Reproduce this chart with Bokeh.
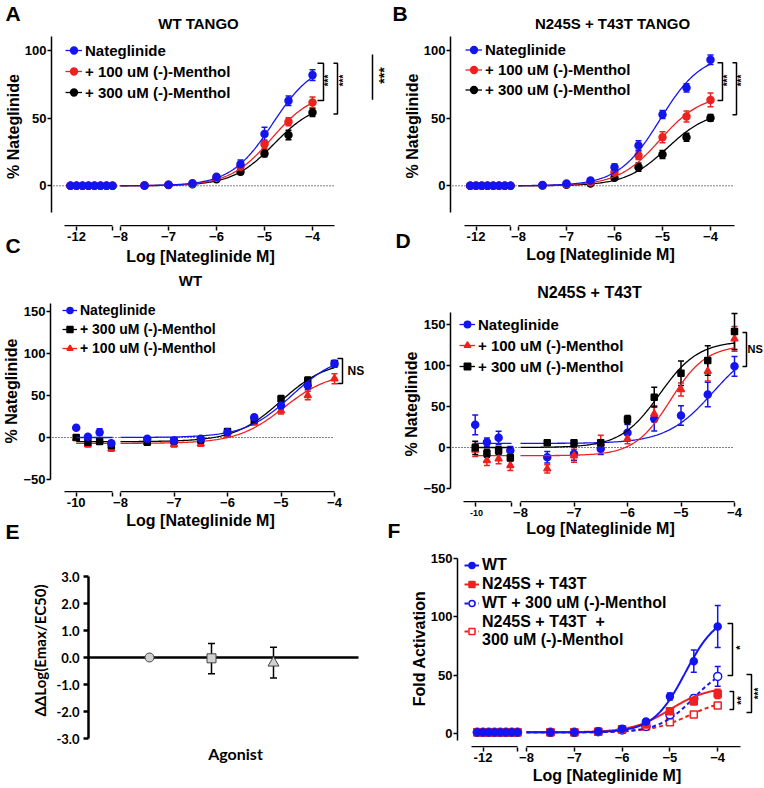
import numpy as np
from bokeh.plotting import figure
from bokeh.models import (Range1d, FixedTicker, Label, Legend, LegendItem, GridBox,
                          ColumnDataSource, Whisker, TeeHead, NumeralTickFormatter)
from bokeh.core.properties import value
from bokeh.embed import file_html
from bokeh.resources import INLINE

FONT = "Liberation Sans"
EFONT = "Lato"
BLUE = "#1414f0"
RED = "#ee2020"
BLACK = "#000000"

# ---------------- data ----------------
conc = [-7.5, -7.0, -6.5, -6.0, -5.5, -5.0, -4.5, -4.0]
veh_12 = [-12.25, -12.0, -11.75, -11.5, -11.25, -11.0, -10.75, -10.5]
veh_10 = [-10.0, -9.5, -9.0, -8.5]

lab_nat = "Nateglinide"
lab_100 = "+ 100 uM (-)-Menthol"
lab_300 = "+ 300 uM (-)-Menthol"

# Panel A  (WT TANGO)
a_nat = [0.3, 0.8, 1.8, 6.6, 16.0, 38.2, 62.8, 81.8]
a_nat_err = [0.3, 0.4, 0.8, 1.5, 3.0, 5.0, 3.5, 4.0]
a_m100 = [0.3, 0.7, 1.5, 6.0, 14.0, 30.8, 47.3, 61.6]
a_m100_err = [0.3, 0.4, 0.8, 1.5, 2.0, 3.0, 3.0, 4.0]
a_m300 = [0.2, 0.6, 1.2, 4.9, 10.3, 23.9, 37.5, 54.2]
a_m300_err = [0.2, 0.3, 0.6, 1.0, 2.0, 2.5, 3.5, 3.0]
a_veh = [0, 0, 0, 0, 0, 0, 0, 0]
a_veh_err = [0, 0, 0, 0, 0, 0, 0, 0]
a_fit_nat = (0, 92, -4.83, 1.0)     # bottom, top, logEC50, hill
a_fit_m100 = (0, 70, -4.85, 1.0)
a_fit_m300 = (0, 62, -4.80, 1.0)

# Panel B  (N245S + T43T TANGO)
b_nat = [0.5, 1.7, 3.9, 13.7, 29.8, 52.7, 72.4, 93.1]
b_nat_err = [0.4, 0.5, 1.0, 2.5, 3.5, 3.0, 3.0, 3.5]
b_m100 = [0.3, 1.2, 2.7, 10.1, 22.4, 35.9, 51.2, 63.5]
b_m100_err = [0.3, 0.5, 0.8, 2.0, 3.0, 4.0, 4.0, 5.0]
b_m300 = [0.2, 0.8, 1.7, 5.9, 13.8, 23.1, 35.9, 50.2]
b_m300_err = [0.2, 0.4, 0.6, 1.5, 3.0, 3.0, 3.0, 2.5]
b_veh = [0, 0, 0, 0, 0, 0, 0, 0]
b_veh_err = [0, 0, 0, 0, 0, 0, 0, 0]
b_fit_nat = (0, 98, -5.05, 1.0)
b_fit_m100 = (0, 68, -5.05, 1.0)
b_fit_m300 = (0, 56, -4.90, 1.0)

# Panel C  (WT)
c_nat_veh = [11.5, 1.0, 6.3, -6.8]
c_nat_veh_err = [0.5, 0.5, 4.0, 3.0]
c_nat = [-1.6, -3.6, -1.6, 6.3, 24.2, 38.0, 62.0, 87.7]
c_nat_err = [1.5, 1.5, 1.5, 1.5, 2.5, 4.0, 5.0, 4.0]
c_m300_veh = [0.0, -5.6, -4.8, -9.5]
c_m300_veh_err = [1.0, 3.0, 3.0, 3.0]
c_m300 = [-5.6, -4.0, -3.0, 7.0, 21.0, 46.0, 68.0, 88.0]
c_m300_err = [1.5, 1.5, 1.5, 2.0, 2.5, 4.0, 4.0, 3.0]
c_m100_veh = [-1.0, -8.3, -4.4, -13.5]
c_m100_veh_err = [1.0, 3.0, 3.0, 3.0]
c_m100 = [-5.6, -8.3, -7.5, 3.0, 18.0, 32.0, 50.0, 70.0]
c_m100_err = [1.5, 3.0, 3.0, 2.0, 3.0, 4.0, 5.0, 6.0]
c_fit_nat = (0, 100, -4.80, 1.0)
c_fit_m300 = (-5, 92, -5.00, 1.0)
c_fit_m100 = (-7, 78, -4.95, 1.0)

# Panel D  (N245S + T43T)
d_nat_veh = [27.6, 6.5, 11.8, -3.7]
d_nat_veh_err = [12, 5, 8, 5]
d_nat = [-11.8, -7.7, -1.6, 18.0, 35.0, 39.0, 64.6, 99.0]
d_nat_err = [7, 8, 7, 10, 15, 12, 15, 12]
d_m100_veh = [-3.0, -15.8, -13.8, -22.0]
d_m100_veh_err = [8, 6, 6, 6]
d_m100 = [-26.0, -10.0, 5.0, 10.6, 41.0, 70.7, 93.0, 132.5]
d_m100_err = [5, 8, 10, 6, 10, 8, 12, 15]
d_m300_veh = [-0.4, -7.0, -3.7, -12.6]
d_m300_veh_err = [8, 5, 5, 4]
d_m300 = [5.7, 5.7, 5.7, 34.0, 61.4, 90.6, 106.0, 141.5]
d_m300_err = [3, 3, 3, 5, 12, 15, 18, 22]
d_fit_nat = (5, 130, -4.40, 1.0)
d_fit_m100 = (-10, 125, -5.20, 1.3)
d_fit_m300 = (0, 130, -5.40, 1.2)

# Panel E
e_cat = [1, 2, 3]
e_val = [0.0, -0.03, -0.2]
e_lo = [0.0, -0.6, -0.76]
e_hi = [0.0, 0.52, 0.38]

# Panel F  (fold activation)
f_lab_wt = "WT"
f_lab_mut = "N245S + T43T"
f_lab_wtm = "WT + 300 uM (-)-Menthol"
f_lab_mutm = "N245S + T43T  +\n300 uM (-)-Menthol"
f_veh = [1, 1, 1, 1, 1, 1, 1, 1]
f_veh_err = [0, 0, 0, 0, 0, 0, 0, 0]
f_wt = [1.0, 1.0, 1.7, 4.0, 10.3, 31.7, 62.0, 91.7]
f_wt_err = [0.3, 0.3, 0.5, 1.0, 2.0, 3.0, 9.5, 18.0]
f_mut = [1.0, 1.0, 1.4, 3.7, 7.7, 19.0, 27.7, 34.0]
f_mut_err = [0.3, 0.3, 0.5, 0.8, 1.5, 2.0, 3.0, 4.0]
f_wtm = [1.0, 1.0, 1.5, 3.0, 6.0, 16.0, 30.0, 48.9]
f_wtm_err = [0.3, 0.3, 0.5, 0.8, 1.5, 2.0, 3.0, 8.5]
f_mutm = [1.0, 1.0, 1.5, 3.2, 6.0, 9.7, 16.3, 24.0]
f_mutm_err = [0.3, 0.3, 0.5, 0.8, 1.0, 1.0, 1.5, 2.0]
f_fit_wt = (1, 103, -4.68, 1.3)
f_fit_mut = (1, 40, -5.00, 1.1)
f_fit_wtm = (1, 60, -4.50, 1.2)
f_fit_mutm = (1, 30, -4.60, 1.1)


# ---------------- helpers ----------------
def hill(x, fit):
    b, t, e, h = fit
    x = np.asarray(x, dtype=float)
    return b + (t - b) / (1.0 + 10.0 ** ((e - x) * h))


def base_figure(canvas, frame, xr, yr):
    cx, cy, cw, ch = canvas
    fl, ft, fr, fb = frame
    p = figure(width=cw, height=ch, x_range=Range1d(*xr), y_range=Range1d(*yr),
               output_backend="svg", toolbar_location=None, title=None,
               min_border_left=fl - cx, min_border_right=cx + cw - fr,
               min_border_top=ft - cy, min_border_bottom=cy + ch - fb)
    p.xgrid.visible = False
    p.ygrid.visible = False
    p.outline_line_color = None
    if "frame_align" in p.properties():
        p.frame_align = False
    return p


def style_axis(ax, font, tick_size, label_size, lw=1.5):
    ax.axis_line_width = lw
    ax.axis_line_color = "black"
    ax.major_tick_line_width = lw
    ax.major_tick_line_color = "black"
    ax.major_tick_out = 4
    ax.major_tick_in = 0
    ax.minor_tick_out = 0
    ax.minor_tick_in = 0
    ax.major_label_text_font = font
    ax.major_label_text_font_style = "bold"
    ax.major_label_text_font_size = tick_size
    ax.major_label_text_color = "black"
    ax.axis_label_text_font = font
    ax.axis_label_text_font_style = "bold"
    ax.axis_label_text_font_size = label_size
    ax.axis_label_text_color = "black"
    ax.major_label_standoff = 1
    ax.axis_label_standoff = 0


def dose_panel(g, series, leg, brackets, xlabel=None, ylabel="% Nateglinide", zero=True):
    fl, ft, fr, fb = g["frame"]
    px8, ppu, py0, ppy = g["px8"], g["ppu"], g["py0"], g["ppy"]
    s0, s1 = g["seg"]
    L0, L1 = g["segL"]

    def tx(px):
        return -8.0 + (px - px8) / ppu

    def ty(py):
        return (py0 - py) / ppy

    def low_t(L):
        return tx(s0 + (L - L0) / (L1 - L0) * (s1 - s0))

    p = base_figure(g["canvas"], g["frame"], (tx(fl), tx(fr)), (ty(fb), ty(ft)))

    # broken x axis line (at the frame bottom); bokeh ticks and labels below it
    yl = ty(fb - 0.8)
    p.line([tx(s0), tx(s1)], [yl, yl], line_color="black", line_width=1.5)
    p.line([-8.0, tx(g["xend"])], [yl, yl], line_color="black", line_width=1.5)
    if zero:
        p.line([tx(fl + 2), tx(g["xend"])], [0, 0], line_color="black", line_width=1,
               line_dash="1 2")

    items = {}
    for s in series:
        xs = np.linspace(-8.0, -4.0, 161)
        lw = s.get("lw", 1.3)
        dash = s.get("dash", "solid")
        lr = p.line(xs, hill(xs, s["fit"]), line_color=s["color"], line_width=lw, line_dash=dash)
        vx = [low_t(L) for L in s["veh_x"]]
        p.line([vx[0], tx(s1)], hill([s["veh_x"][0], L1], s["fit"]), line_color=s["color"],
               line_width=lw, line_dash=dash)
        px_all = vx + list(conc)
        py_all = list(s["veh"]) + list(s["y"])
        e_all = list(s["veh_err"]) + list(s["err"])
        keep = [i for i, e in enumerate(e_all) if e >= 1.0]
        src = ColumnDataSource(dict(x=[px_all[i] for i in keep],
                                    lo=[py_all[i] - e_all[i] for i in keep],
                                    hi=[py_all[i] + e_all[i] for i in keep]))
        p.add_layout(Whisker(source=src, base="x", lower="lo", upper="hi",
                             line_color=s["color"], line_width=1.5,
                             upper_head=TeeHead(size=6, line_color=s["color"], line_width=1.5),
                             lower_head=TeeHead(size=6, line_color=s["color"], line_width=1.5)))
        sr = p.scatter(px_all, py_all, marker=s["marker"], size=s.get("size", 7),
                       fill_color=s.get("fill", s["color"]), line_color=s["color"],
                       line_width=1.5)
        items[s["label"]] = [lr, sr]

    legend = Legend(items=[LegendItem(label=value(l), renderers=items[l]) for l in leg["order"]],
                    location="top_left", padding=0, margin=leg["pad"], spacing=1,
                    glyph_width=leg["gw"], glyph_height=leg["gh"], label_height=leg["gh"],
                    label_standoff=3, label_text_font=FONT, label_text_font_style="bold",
                    label_text_font_size=leg["size"], label_text_color="black",
                    border_line_color=None, background_fill_alpha=0)
    p.add_layout(legend)

    # significance brackets (their texts are set in the overlay)
    for (xa, xb, yt, ybm) in brackets:
        p.line([tx(xa), tx(xb), tx(xb), tx(xa)], [yt, yt, ybm, ybm], line_color="black",
               line_width=1.5)

    # axes
    ticks = [low_t(g["tick_log"]), tx(s1), -8.0, -7.0, -6.0, -5.0, -4.0]
    p.xaxis.ticker = FixedTicker(ticks=ticks)
    p.xaxis.major_label_overrides = {ticks[0]: g["tick_label"], ticks[1]: ""}
    style_axis(p.xaxis[0], FONT, "13px", "16px")
    p.xaxis.axis_line_color = None
    p.xaxis.axis_label_standoff = g.get("xls", 2)
    if xlabel is not None:
        p.xaxis.axis_label = xlabel

    p.yaxis.ticker = FixedTicker(ticks=g["yticks"])
    p.yaxis.bounds = g["ybounds"]
    style_axis(p.yaxis[0], FONT, "13px", "16px")
    p.yaxis.axis_label = ylabel
    return p


XL = "Log [Nateglinide M]"

# ---------------- panel A ----------------
gA = dict(canvas=(0, 0, 382, 268), frame=(51, 26, 382, 226), px8=120, ppu=48.0,
          py0=185.3, ppy=1.353, seg=(64, 112), segL=(-12.5, -10.5), tick_log=-12.0,
          tick_label="-12", xend=334, yticks=[0, 50, 100], ybounds=(-20, 110))
serA = [
    dict(label=lab_300, color=BLACK, marker="circle", veh_x=veh_12, veh=a_veh, veh_err=a_veh_err,
         y=a_m300, err=a_m300_err, fit=a_fit_m300),
    dict(label=lab_100, color=RED, marker="circle", veh_x=veh_12, veh=a_veh, veh_err=a_veh_err,
         y=a_m100, err=a_m100_err, fit=a_fit_m100),
    dict(label=lab_nat, color=BLUE, marker="circle", veh_x=veh_12, veh=a_veh, veh_err=a_veh_err,
         y=a_nat, err=a_nat_err, fit=a_fit_nat),
]
pA = dose_panel(gA, serA, dict(order=[lab_nat, lab_100, lab_300], pad=14, gw=17, gh=20, size="15px"),
                brackets=[(317, 323, 90.5, 63.0), (333, 337, 90.5, 53.0), (372, 372, 97.0, 63.6)])

# ---------------- panel B ----------------
gB = dict(canvas=(382, 0, 381, 268), frame=(450, 25, 750, 226), px8=518, ppu=48.0,
          py0=185.3, ppy=1.353, seg=(464, 510), segL=(-12.5, -10.5), tick_log=-12.0,
          tick_label="-12", xend=734, yticks=[0, 50, 100], ybounds=(-20, 110), xls=2)
serB = [
    dict(label=lab_300, color=BLACK, marker="circle", veh_x=veh_12, veh=b_veh, veh_err=b_veh_err,
         y=b_m300, err=b_m300_err, fit=b_fit_m300),
    dict(label=lab_100, color=RED, marker="circle", veh_x=veh_12, veh=b_veh, veh_err=b_veh_err,
         y=b_m100, err=b_m100_err, fit=b_fit_m100),
    dict(label=lab_nat, color=BLUE, marker="circle", veh_x=veh_12, veh=b_veh, veh_err=b_veh_err,
         y=b_nat, err=b_nat_err, fit=b_fit_nat),
]
pB = dose_panel(gB, serB, dict(order=[lab_nat, lab_100, lab_300], pad=15, gw=17, gh=19, size="15px"),
                brackets=[(717, 722, 91.0, 63.0), (732, 736, 91.0, 52.6)], xlabel=XL)

# ---------------- panel C ----------------
gC = dict(canvas=(0, 268, 382, 272), frame=(50, 289, 350, 492), px8=120, ppu=53.5,
          py0=437, ppy=0.84, seg=(64, 112), segL=(-10.5, -8.45), tick_log=-10.0,
          tick_label="-10", xend=334, yticks=[-50, 0, 50, 100, 150], ybounds=(-50, 160), xls=2)
serC = [
    dict(label=lab_100, color=RED, marker="triangle", size=7, veh_x=veh_10, veh=c_m100_veh,
         veh_err=c_m100_veh_err, y=c_m100, err=c_m100_err, fit=c_fit_m100),
    dict(label=lab_300, color=BLACK, marker="square", size=6, veh_x=veh_10, veh=c_m300_veh,
         veh_err=c_m300_veh_err, y=c_m300, err=c_m300_err, fit=c_fit_m300),
    dict(label=lab_nat, color=BLUE, marker="circle", size=7, veh_x=veh_10, veh=c_nat_veh,
         veh_err=c_nat_veh_err, y=c_nat, err=c_nat_err, fit=c_fit_nat),
]
pC = dose_panel(gC, serC, dict(order=[lab_nat, lab_300, lab_100], pad=12, gw=15, gh=18, size="14px"),
                brackets=[(337, 342, 94.0, 64.3)], xlabel=XL)

# ---------------- panel D ----------------
gD = dict(canvas=(382, 268, 381, 272), frame=(450, 305, 750, 502), px8=520, ppu=53.5,
          py0=447, ppy=0.82, seg=(463, 511), segL=(-10.5, -8.45), tick_log=-10.0,
          tick_label="", xend=734, yticks=[-50, 0, 50, 100, 150], ybounds=(-50, 165), xls=0)
serD = [
    dict(label=lab_nat, color=BLUE, marker="circle", size=7, veh_x=veh_10, veh=d_nat_veh,
         veh_err=d_nat_veh_err, y=d_nat, err=d_nat_err, fit=d_fit_nat),
    dict(label=lab_100, color=RED, marker="triangle", size=7, veh_x=veh_10, veh=d_m100_veh,
         veh_err=d_m100_veh_err, y=d_m100, err=d_m100_err, fit=d_fit_m100),
    dict(label=lab_300, color=BLACK, marker="square", size=6, veh_x=veh_10, veh=d_m300_veh,
         veh_err=d_m300_veh_err, y=d_m300, err=d_m300_err, fit=d_fit_m300),
]
pD = dose_panel(gD, serD, dict(order=[lab_nat, lab_100, lab_300], pad=9, gw=16, gh=20, size="15px"),
                brackets=[(742, 746, 140.2, 98.8)], xlabel=XL)

# ---------------- panel F ----------------
gF = dict(canvas=(382, 540, 381, 247), frame=(457, 549, 756, 747), px8=526, ppu=47.8,
          py0=733, ppy=1.1667, seg=(471, 517), segL=(-12.5, -10.5), tick_log=-12.0,
          tick_label="-12", xend=740, yticks=[0, 50, 100, 150], ybounds=(-6, 150), xls=2)
serF = [
    dict(label=f_lab_mutm, color=RED, marker="square", size=7, fill="white", dash="4 3", lw=2,
         veh_x=veh_12, veh=f_veh, veh_err=f_veh_err, y=f_mutm, err=f_mutm_err, fit=f_fit_mutm),
    dict(label=f_lab_wtm, color=BLUE, marker="circle", size=8, fill="white", dash="4 3", lw=2,
         veh_x=veh_12, veh=f_veh, veh_err=f_veh_err, y=f_wtm, err=f_wtm_err, fit=f_fit_wtm),
    dict(label=f_lab_mut, color=RED, marker="square", size=7, lw=2,
         veh_x=veh_12, veh=f_veh, veh_err=f_veh_err, y=f_mut, err=f_mut_err, fit=f_fit_mut),
    dict(label=f_lab_wt, color=BLUE, marker="circle", size=7, lw=2,
         veh_x=veh_12, veh=f_veh, veh_err=f_veh_err, y=f_wt, err=f_wt_err, fit=f_fit_wt),
]
pF = dose_panel(gF, serF, dict(order=[f_lab_wt, f_lab_mut, f_lab_wtm, f_lab_mutm], pad=7, gw=15,
                               gh=18, size="16px"),
                brackets=[(727, 732, 94.3, 49.7), (729, 733, 36.0, 20.6), (746, 751, 50.6, 18.0)],
                xlabel=XL, ylabel="Fold Activation", zero=False)


# ---------------- panel E ----------------
def txE(px):
    return 1.0 + (px - 149) / 62.0


def tyE(py):
    return (657 - py) / 27.0


pE = base_figure((0, 540, 382, 247), (88, 560, 382, 740), (txE(88), txE(382)), (tyE(740), tyE(560)))
pE.line([txE(88), txE(358)], [0, 0], line_color="black", line_width=2.5)
esrc = ColumnDataSource(dict(x=[e_cat[i] for i in (1, 2)], lo=[e_lo[i] for i in (1, 2)],
                             hi=[e_hi[i] for i in (1, 2)]))
pE.add_layout(Whisker(source=esrc, base="x", lower="lo", upper="hi", line_color="black",
                      line_width=1.5,
                      upper_head=TeeHead(size=7, line_color="black", line_width=1.5),
                      lower_head=TeeHead(size=7, line_color="black", line_width=1.5)))
pE.scatter(e_cat, e_val, marker=["circle", "square", "triangle"], size=[9, 9, 11],
           fill_color="#d0d0d0", line_color="#444444", line_width=1)
pE.yaxis.ticker = FixedTicker(ticks=[-3, -2, -1, 0, 1, 2, 3])
pE.yaxis.bounds = (-3, 3)
pE.yaxis.formatter = NumeralTickFormatter(format="0.0")
style_axis(pE.yaxis[0], EFONT, "13px", "15px", lw=2.5)
pE.yaxis.major_tick_out = 5
pE.yaxis.major_label_standoff = 4
pE.yaxis.axis_label_standoff = 4
pE.yaxis.axis_label = "ΔΔLog(Emax/EC50)"
pE.xaxis.ticker = FixedTicker(ticks=[])
style_axis(pE.xaxis[0], EFONT, "13px", "16px")
pE.xaxis.axis_line_color = None
pE.xaxis.major_tick_out = 0
pE.xaxis.major_label_standoff = 0
pE.xaxis.axis_label_standoff = 3
pE.xaxis.axis_label = "Agonist"

# ---------------- overlay with panel letters, titles and significance marks ----------------
W, H = 763, 787
pO = figure(width=W, height=H, x_range=Range1d(0, W), y_range=Range1d(H, 0),
            x_axis_type=None, y_axis_type=None, output_backend="svg", toolbar_location=None,
            title=None, min_border=0, border_fill_color=None, background_fill_color=None)
pO.outline_line_color = None
if "frame_align" in pO.properties():
    pO.frame_align = False

V = np.pi / 2
overlay_texts = [
    # (x, y, text, size, align, angle)
    (5, 13, "A", "21px", "left", 0.0),
    (198, 23, "WT TANGO", "15px", "center", 0.0),
    (200, 256, XL, "16px", "center", 0.0),
    (392, 13, "B", "21px", "left", 0.0),
    (612, 23, "N245S + T43T TANGO", "15px", "center", 0.0),
    (5, 245, "C", "21px", "left", 0.0),
    (190, 280, "WT", "15px", "center", 0.0),
    (395, 240, "D", "21px", "left", 0.0),
    (589, 292, "N245S + T43T", "16px", "center", 0.0),
    (476, 512, "-10", "9px", "center", 0.0),
    (5, 531, "E", "21px", "left", 0.0),
    (387, 530, "F", "21px", "left", 0.0),
    (328, 80, "***", "10px", "center", V),
    (343, 80, "***", "10px", "center", V),
    (383, 75, "***", "14px", "center", V),
    (727, 80, "***", "10px", "center", V),
    (741, 80, "***", "10px", "center", V),
    (347, 370, "NS", "12px", "left", 0.0),
    (747, 348, "NS", "11px", "left", 0.0),
    (739, 647, "*", "11px", "center", V),
    (740, 700, "**", "11px", "center", V),
    (758, 693, "***", "10px", "center", V),
]
for (x, y, t, sz, al, ang) in overlay_texts:
    pO.add_layout(Label(x=x, y=y, text=t, text_font=FONT, text_font_style="bold",
                        text_font_size=sz, text_align=al, text_baseline="middle", angle=ang,
                        text_color="black"))

grid = GridBox(children=[(pA, 0, 0), (pB, 0, 1), (pC, 1, 0), (pD, 1, 1), (pE, 2, 0), (pF, 2, 1),
                         (pO, 0, 0, 3, 2)], spacing=0)

open("out.html", "w").write(file_html(grid, INLINE, title="Nateglinide / Menthol"))
